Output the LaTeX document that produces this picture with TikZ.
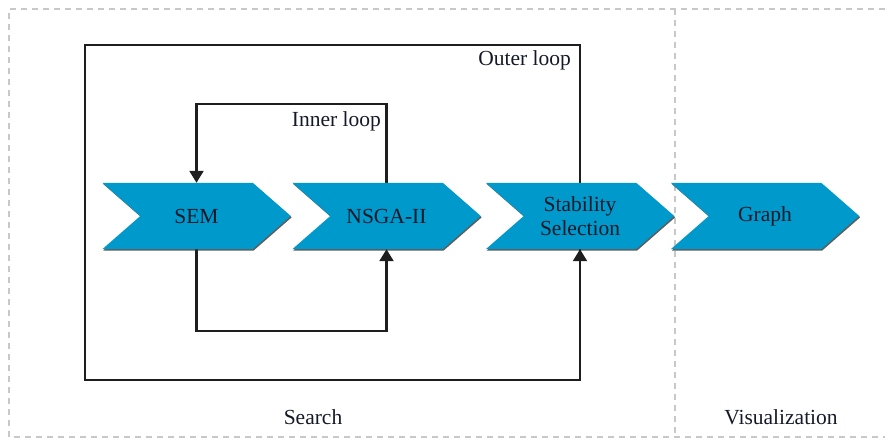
\documentclass[tikz,border=0pt]{standalone}
\usepackage{fontspec}
\setmainfont{Liberation Serif}
\usetikzlibrary{arrows.meta,shadows,calc}
\definecolor{chevblue}{RGB}{0,153,204}
\definecolor{linegray}{RGB}{30,30,30}
\definecolor{dashgray}{RGB}{200,200,200}
\definecolor{inkdark}{RGB}{20,25,40}
\pgfdeclarelayer{back}
\pgfdeclarelayer{mid}
\pgfsetlayers{back,mid,main}
\tikzset{
  stage/.style={minimum width=188pt, minimum height=66pt, inner sep=0pt,
    font=\fontsize{21.5}{24}\selectfont, align=center, text=inkdark},
  label/.style={font=\fontsize{21.5}{24}\selectfont, text=inkdark, inner sep=0pt},
  frame/.style={draw=dashgray, line width=2pt, dash pattern=on 6pt off 5pt},
  loopline/.style={draw=linegray, line width=2.3pt},
  boxline/.style={draw=linegray, line width=2.6pt},
  feed/.style={loopline, -{Triangle[width=14pt,length=12pt]}},
  chevfill/.style={fill=chevblue, drop shadow={shadow xshift=1pt, shadow yshift=-1.3pt, opacity=0.8, fill=black!80}}
}
% filled chevron spanning the bounding box of a named node
\newcommand\chevronfor[1]{%
  \fill[chevfill] (#1.north west) -- ($(#1.north east)+(-38,0)$) -- (#1.east)
    -- ($(#1.south east)+(-38,0)$) -- (#1.south west) -- ($(#1.west)+(38,0)$) -- cycle;}
\begin{document}
\begin{tikzpicture}[x=1pt,y=-1pt]
  \useasboundingbox (0,0) rectangle (885,441);

  % process stages
  \node[stage] (sem)   at (196.5,216) {SEM};
  \node[stage] (nsga)  at (386.5,216) {NSGA-II};
  \node[stage] (stab)  at (580,216)   {Stability\\Selection};
  \node[stage] (graph) at (765,216)   {Graph};

  \begin{pgfonlayer}{mid}
    \chevronfor{sem}
    \chevronfor{nsga}
    \chevronfor{stab}
    \chevronfor{graph}
  \end{pgfonlayer}

  % phase frames
  \begin{pgfonlayer}{back}
    \coordinate (fTL) at (9,9);
    \coordinate (fBL) at (9,437);
    \coordinate (fTR) at (885,9);
    \coordinate (fBR) at (885,437);
    \coordinate (divTop) at (675,9);
    \coordinate (divBot) at (675,437);
    \draw[frame] (fTR) -- (fTL) -- (fBL) -- (fBR);
    \draw[frame] (divTop) -- (divBot);

    % outer loop box
    \coordinate (outerTL) at (85,45);
    \coordinate (outerBR) at (stab.center |- 0,380);
    \draw[boxline] (outerTL) rectangle (outerBR);

    % inner loop lines
    \coordinate (innerTop) at (0,104);
    \coordinate (innerBot) at (0,331);
    \draw[loopline] (nsga.north) -- (nsga.north |- innerTop) -| ($(sem.north)+(0,-10)$);
    \draw[loopline] (sem.south) -- (sem.south |- innerBot) -| ($(nsga.south)+(0,10)$);
  \end{pgfonlayer}

  % arrowheads into the stages
  \draw[feed] ($(sem.north)+(0,-12)$) -- (sem.north);
  \draw[feed] ($(nsga.south)+(0,12)$) -- (nsga.south);
  \draw[feed] (outerBR) -- (stab.south);

  % labels
  \node[label, anchor=base east] (outerlbl) at (571,66) {Outer loop};
  \node[label, anchor=base east] (innerlbl) at (381,126) {Inner loop};
  \node[label, anchor=base] (searchlbl) at (313,424) {Search};
  \node[label, anchor=base] (vislbl) at (781,424) {Visualization};
\end{tikzpicture}
\end{document}
